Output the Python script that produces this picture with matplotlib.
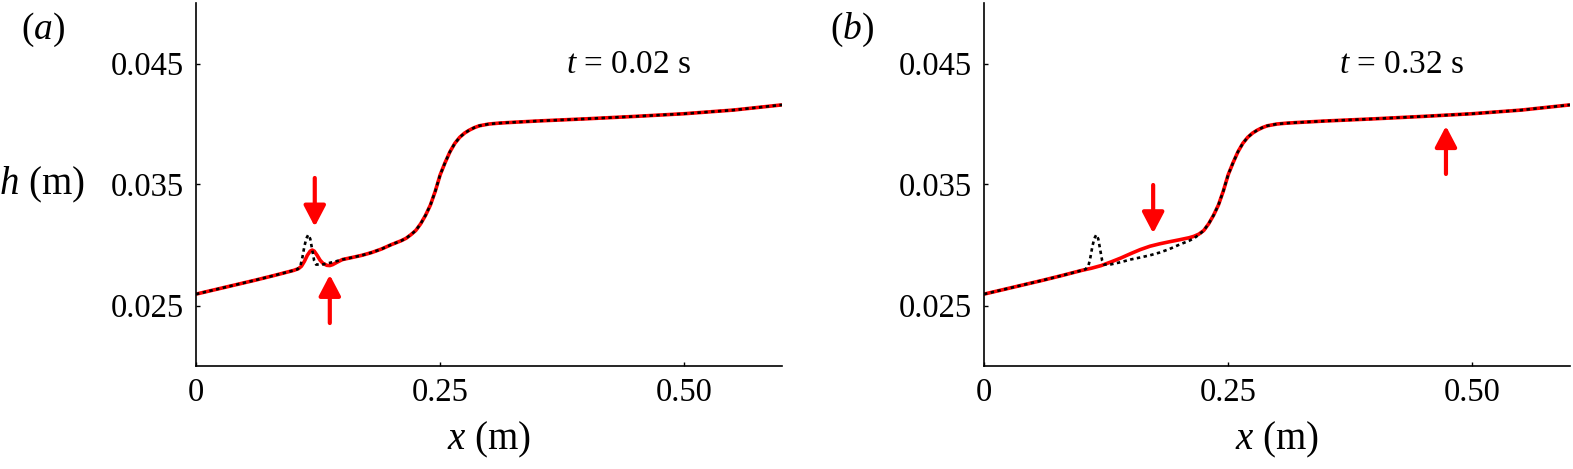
import matplotlib
matplotlib.use("Agg")
import matplotlib.pyplot as plt

plt.rcParams['font.family'] = ['Liberation Serif', 'DejaVu Serif']
plt.rcParams['mathtext.fontset'] = 'custom'
plt.rcParams['mathtext.rm'] = 'Liberation Serif'
plt.rcParams['mathtext.it'] = 'Liberation Serif:italic'

# ---- data ----
# shared smooth profile (dotted black outside the bump region)
x_left = [0.000, 0.020, 0.040, 0.060, 0.080, 0.100]
h_left = [0.02594, 0.02632, 0.02670, 0.02708, 0.02748, 0.02790]

x_right = [0.150, 0.160, 0.170, 0.180, 0.190, 0.200, 0.210, 0.215, 0.220, 0.225,
           0.230, 0.235, 0.240, 0.245, 0.250, 0.255, 0.260, 0.265, 0.270, 0.275,
           0.280, 0.285, 0.290, 0.300, 0.310, 0.320, 0.350, 0.400, 0.450, 0.500,
           0.550, 0.600]
h_right = [0.02880, 0.02897, 0.02915, 0.02938, 0.02967, 0.03003, 0.03035, 0.03055,
           0.03085, 0.03120, 0.03175, 0.03245, 0.03330, 0.03445, 0.03580, 0.03680,
           0.03770, 0.03840, 0.03890, 0.03925, 0.03950, 0.03970, 0.03985, 0.04000,
           0.04007, 0.04012, 0.04025, 0.04043, 0.04063, 0.04085, 0.04115, 0.04158]

# dotted black: narrow initial bump
x_bump_black = [0.104, 0.107, 0.109, 0.111, 0.113, 0.115, 0.117, 0.119, 0.121,
                0.123, 0.130, 0.140]
h_bump_black = [0.02800, 0.02830, 0.02900, 0.02990, 0.03055, 0.03085, 0.03050,
                0.02960, 0.02870, 0.02838, 0.02840, 0.02858]

# red, panel (a), t = 0.02 s
x_mid_a = [0.105, 0.108, 0.111, 0.114, 0.117, 0.119, 0.121, 0.124, 0.127, 0.130,
           0.134, 0.137, 0.140, 0.145]
h_mid_a = [0.02805, 0.02825, 0.02865, 0.02915, 0.02950, 0.02958, 0.02950, 0.02915,
           0.02875, 0.02848, 0.02832, 0.02830, 0.02838, 0.02860]

# red, panel (b), t = 0.32 s
x_mid_b = [0.110, 0.120, 0.130, 0.140]
h_mid_b = [0.02808, 0.02830, 0.02860, 0.02892]
x_right_b = [0.150, 0.160, 0.170, 0.180, 0.190, 0.200, 0.210, 0.215, 0.220]
h_right_b = [0.02928, 0.02962, 0.02990, 0.03010, 0.03027, 0.03043, 0.03060,
             0.03072, 0.03090]

panel_tags = ['($a$)', '($b$)']
time_labels = ['0.02', '0.32']
x_ticks = [0, 0.25, 0.50]
x_tick_labels = ['0', '0.25', '0.50']
y_ticks = [0.025, 0.035, 0.045]
y_tick_labels = ['0.025', '0.035', '0.045']

# ---- series assembly ----
x_black = x_left + x_bump_black + x_right
h_black = h_left + h_bump_black + h_right
x_red_a = x_left + x_mid_a + x_right
h_red_a = h_left + h_mid_a + h_right
k = x_right.index(0.225)
x_red_b = x_left + x_mid_b + x_right_b + x_right[k:]
h_red_b = h_left + h_mid_b + h_right_b + h_right[k:]
reds = [(x_red_a, h_red_a), (x_red_b, h_red_b)]

# arrows: (x, y_tail, y_head)
arrows = [
    [(0.1216, 0.03554, 0.03152), (0.1370, 0.02355, 0.02753)],
    [(0.1732, 0.03496, 0.03097), (0.4730, 0.03587, 0.03983)],
]

W, H = 1573, 469
fig = plt.figure(figsize=(W / 100, H / 100), dpi=100)
lefts = [196, 984]
tag_x = [43, 852]
time_x = [0.443, 0.428]
axw, bottom, top = 586, 366, 3

for i in range(2):
    ax = fig.add_axes([lefts[i] / W, 1 - bottom / H, axw / W, (bottom - top) / H])
    xr, hr = reds[i]
    ax.plot(xr, hr, color='#ff0000', lw=2.6, solid_capstyle='butt', zorder=2)
    ax.plot(x_black, h_black, color='black', lw=1.9, linestyle=(0, (1.3, 1.3)),
            zorder=3)
    ax.set_xlim(0, 0.6)
    ax.set_ylim(0.02, 0.05)
    ax.set_xticks(x_ticks)
    ax.set_xticklabels(x_tick_labels)
    ax.set_yticks(y_ticks)
    ax.set_yticklabels(y_tick_labels)
    ax.tick_params(direction='in', length=3, width=1, labelsize=23.5)
    ax.tick_params(axis='x', pad=8)
    ax.tick_params(axis='y', pad=9)
    for s in ['top', 'right']:
        ax.spines[s].set_visible(False)
    for s in ['left', 'bottom']:
        ax.spines[s].set_linewidth(1.2)
    ax.set_xlabel(r'$x$ (m)', fontsize=28, va='center')
    ax.xaxis.set_label_coords(0.5, (366 - 440) / 363)
    if i == 0:
        ax.set_ylabel(r'$h$ (m)', fontsize=28, rotation=0, va='center', ha='center')
        ax.yaxis.set_label_coords((42 - 196) / 586, (366 - 185) / 363)
    ax.text(time_x[i], 0.0449, r'$t$ = ' + time_labels[i] + ' s',
            fontsize=24, ha='center', va='center')
    for (xa, yt, yh) in arrows[i]:
        ax.annotate('', xy=(xa, yh), xytext=(xa, yt),
                    arrowprops=dict(arrowstyle='-|>,head_length=0.42,head_width=0.22',
                                    color='#ff0000', lw=3, shrinkA=0, shrinkB=0,
                                    mutation_scale=30))
    fig.text(tag_x[i] / W, 1 - 30 / H, panel_tags[i], fontsize=27,
             ha='center', va='center')

fig.savefig('out.png', dpi=100)
